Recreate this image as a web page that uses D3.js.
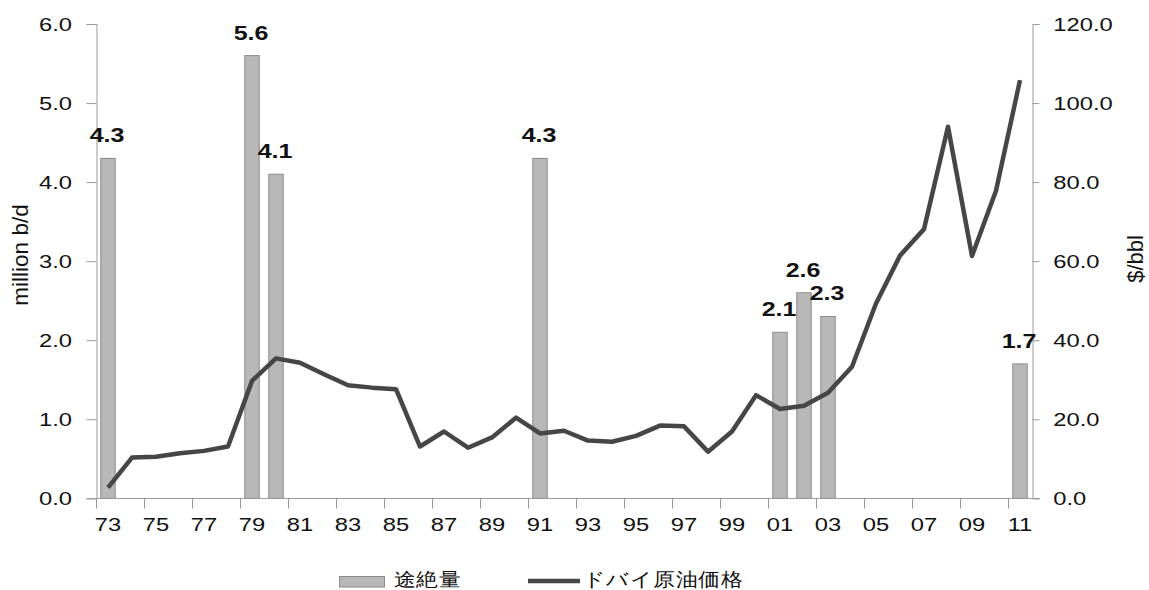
<!DOCTYPE html>
<html>
<head>
<meta charset="utf-8">
<script src="https://cdn.jsdelivr.net/npm/d3@7"></script>
<style>
  html, body { margin: 0; padding: 0; background: #fff; }
  svg { display: block; }
  text { font-family: "Liberation Sans", Arial, sans-serif; fill: #111; }
</style>
</head>
<body>
<svg id="chart" width="1149" height="590"></svg>
<script>
// Years on the category axis (1973–2011)
const years = d3.range(1973, 2012);

// Supply disruptions, million b/d (only years with an outage)
const outageYears = [1973, 1979, 1980, 1991, 2001, 2002, 2003, 2011];
const outageValues = [4.3, 5.6, 4.1, 4.3, 2.1, 2.6, 2.3, 1.7];

// Dubai crude price, $/bbl, one value per year 1973–2011
const dubaiPrice = [
  2.7, 10.3, 10.5, 11.4, 12.0, 13.1, 29.7, 35.4, 34.3, 31.4,
  28.6, 28.0, 27.6, 13.1, 16.9, 12.8, 15.4, 20.4, 16.4, 17.1,
  14.6, 14.3, 15.8, 18.4, 18.2, 11.8, 16.9, 26.1, 22.6, 23.4,
  26.7, 33.3, 49.3, 61.4, 68.1, 94.0, 61.3, 77.8, 105.8
];

// Axis tick values
const leftTicks = [0, 1, 2, 3, 4, 5, 6];
const rightTicks = [0, 20, 40, 60, 80, 100, 120];
const xTickYears = d3.range(1973, 2012, 2);

// Series names
const seriesNames = ["途絶量", "ドバイ原油価格"];
const leftTitle = "million b/d";
const rightTitle = "$/bbl";

const svg = d3.select("#chart");
const SX = 1.25; // horizontal widening of horizontal labels

const x = d3.scaleBand()
  .domain(years)
  .range([96, 1032])
  .paddingInner(0.4)
  .paddingOuter(0.2);
const step = x.step();

const yL = d3.scaleLinear().domain([0, 6]).range([498.3, 24]);
const yR = d3.scaleLinear().domain([0, 120]).range([498.3, 24]);

const axisColor = "#9a9a9a";

// Bars: supply disruptions
const bars = outageYears.map((yr, i) => ({ year: yr, value: outageValues[i] }));
svg.append("g")
  .selectAll("rect")
  .data(bars)
  .join("rect")
  .attr("x", d => x(d.year))
  .attr("y", d => yL(d.value))
  .attr("width", x.bandwidth())
  .attr("height", d => yL(0) - yL(d.value))
  .attr("fill", "#b8b8b8")
  .attr("stroke", "#8a8a8a")
  .attr("stroke-width", 1);

// Left axis
const gL = svg.append("g")
  .attr("transform", "translate(96.5,0)")
  .call(d3.axisLeft(yL).tickValues(leftTicks).tickSize(10).tickPadding(0)
    .tickFormat(d3.format(".1f")));
gL.selectAll("path, line").attr("stroke", axisColor);
gL.selectAll("text")
  .attr("font-size", 19)
  .attr("fill", "#111")
  .attr("x", -24.5 / SX)
  .attr("transform", `scale(${SX},1)`);

// Right axis
const gR = svg.append("g")
  .attr("transform", "translate(1032.5,0)")
  .call(d3.axisRight(yR).tickValues(rightTicks).tickSize(7).tickPadding(0)
    .tickFormat(d3.format(".1f")));
gR.selectAll("path, line").attr("stroke", axisColor);
gR.selectAll("text")
  .attr("font-size", 19)
  .attr("fill", "#111")
  .attr("x", 20.8 / SX)
  .attr("transform", `scale(${SX},1)`);

// Bottom axis: ticks sit between categories, labels centred on the year
const gX = svg.append("g")
  .attr("transform", "translate(0,498.5)")
  .call(d3.axisBottom(x).tickValues(xTickYears).tickSize(10).tickPadding(9)
    .tickFormat(d => String(d % 100).padStart(2, "0")));
gX.select(".domain").attr("d", "M96,0H1040").attr("stroke", axisColor);
gX.selectAll(".tick line")
  .attr("stroke", axisColor)
  .attr("x1", -step / 2 + 0.5)
  .attr("x2", -step / 2 + 0.5);
gX.selectAll("text")
  .attr("font-size", 19)
  .attr("fill", "#111")
  .attr("transform", `scale(${SX},1)`);

// Dubai crude price line (right axis)
const line = d3.line()
  .x((d, i) => x(years[i]) + x.bandwidth() / 2)
  .y(d => yR(d));
svg.append("path")
  .datum(dubaiPrice)
  .attr("d", line)
  .attr("fill", "none")
  .attr("stroke", "#464646")
  .attr("stroke-width", 4.5)
  .attr("stroke-linejoin", "round");

// Value labels above the bars
svg.append("g")
  .selectAll("text")
  .data(bars)
  .join("text")
  .attr("transform", d => `translate(${x(d.year) + x.bandwidth() / 2 - 1},${yL(d.value) - 16}) scale(${SX},1)`)
  .attr("text-anchor", "middle")
  .attr("font-size", 20)
  .attr("font-weight", "bold")
  .attr("fill", "#111")
  .text(d => d.value.toFixed(1));

// Axis titles
svg.append("text")
  .attr("transform", "translate(28,255) rotate(-90)")
  .attr("text-anchor", "middle")
  .attr("font-size", 22.5)
  .text(leftTitle);
svg.append("text")
  .attr("transform", "translate(1143,259) rotate(-90)")
  .attr("text-anchor", "middle")
  .attr("font-size", 22)
  .text(rightTitle);

// Legend
const lg = svg.append("g");
lg.append("rect")
  .attr("x", 339.5).attr("y", 576.5)
  .attr("width", 45).attr("height", 10.5)
  .attr("fill", "#b8b8b8").attr("stroke", "#8a8a8a");
lg.append("text")
  .attr("transform", `translate(394,585.5) scale(1.15,1)`)
  .attr("font-family", "'Noto Sans CJK JP', sans-serif")
  .attr("font-size", 19.5)
  .attr("fill", "#222")
  .text(seriesNames[0]);
lg.append("line")
  .attr("x1", 528).attr("x2", 580)
  .attr("y1", 581).attr("y2", 581)
  .attr("stroke", "#464646").attr("stroke-width", 4.5);
lg.append("text")
  .attr("transform", `translate(583,585.5) scale(1.15,1)`)
  .attr("font-family", "'Noto Sans CJK JP', sans-serif")
  .attr("font-size", 19.5)
  .attr("fill", "#222")
  .text(seriesNames[1]);
</script>
</body>
</html>
